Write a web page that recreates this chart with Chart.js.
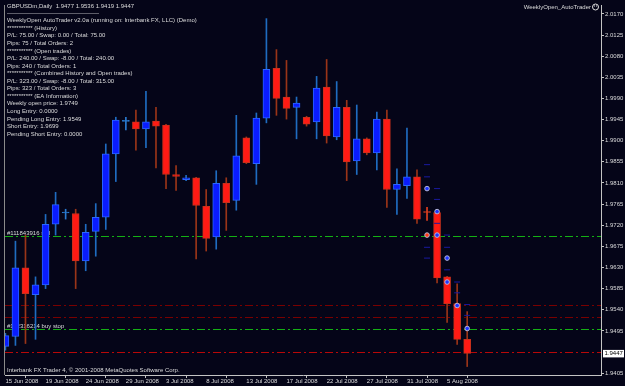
<!DOCTYPE html>
<html>
<head>
<meta charset="utf-8">
<script src="https://cdn.jsdelivr.net/npm/chart.js@4/dist/chart.umd.min.js"></script>
<style>
  html, body { margin: 0; padding: 0; background: #050518; }
  canvas { display: block; }
</style>
</head>
<body>
<canvas id="chart" width="625" height="386"></canvas>
<script>
// GBPUSDm daily bars, 15 Jun - 7 Aug 2008 (Sunday bars included)
const opens  = [1.9462, 1.9483, 1.9629, 1.9572, 1.9593, 1.9722, 1.9746, 1.9745, 1.9644, 1.9707,
                1.9737, 1.9872, 1.9941, 1.9940, 1.9925, 1.9942, 1.9933, 1.9828, 1.9817, 1.9821,
                1.9760, 1.9695, 1.9809, 1.9773, 1.9906, 1.9851, 1.9948, 2.0054, 1.9993, 1.9971,
                1.9950, 1.9940, 2.0014, 1.9908, 1.9971, 1.9857, 1.9904, 1.9874, 1.9946, 1.9796,
                1.9804, 1.9823, 1.9748, 1.9747, 1.9610, 1.9553, 1.9477];
const highs  = [1.9490, 1.9686, 1.9699, 1.9610, 1.9743, 1.9790, 1.9754, 1.9754, 1.9722, 1.9766,
                1.9893, 1.9950, 1.9950, 1.9965, 2.0005, 1.9971, 1.9935, 1.9847, 1.9826, 1.9822,
                1.9796, 1.9836, 1.9821, 1.9954, 1.9908, 1.9959, 2.0160, 2.0094, 2.0071, 1.9993,
                1.9952, 2.0037, 2.0073, 2.0026, 1.9986, 1.9976, 1.9906, 1.9961, 1.9965, 1.9840,
                1.9927, 1.9838, 1.9758, 1.9748, 1.9611, 1.9595, 1.9536];
const lows   = [1.9454, 1.9464, 1.9468, 1.9477, 1.9585, 1.9699, 1.9733, 1.9585, 1.9623, 1.9654,
                1.9711, 1.9813, 1.9923, 1.9880, 1.9885, 1.9842, 1.9798, 1.9794, 1.9815, 1.9648,
                1.9665, 1.9669, 1.9709, 1.9752, 1.9851, 1.9807, 1.9938, 1.9954, 1.9946, 1.9904,
                1.9931, 1.9904, 1.9895, 1.9902, 1.9815, 1.9828, 1.9870, 1.9838, 1.9758, 1.9743,
                1.9777, 1.9724, 1.9730, 1.9597, 1.9513, 1.9466, 1.9419];
const closes = [1.9485, 1.9629, 1.9574, 1.9593, 1.9722, 1.9764, 1.9747, 1.9644, 1.9705, 1.9737,
                1.9872, 1.9944, 1.9942, 1.9925, 1.9940, 1.9931, 1.9828, 1.9824, 1.9821, 1.9762,
                1.9692, 1.9809, 1.9768, 1.9868, 1.9853, 1.9948, 2.0052, 1.9990, 1.9969, 1.9980,
                1.9935, 2.0012, 1.9910, 1.9971, 1.9855, 1.9904, 1.9874, 1.9946, 1.9796, 1.9807,
                1.9823, 1.9733, 1.9747, 1.9608, 1.9553, 1.9477, 1.9447];
// bars drawn as crosses (open ~ close)
const dojiBars = [6, 12, 42];

// date axis: a label every 4th bar
const dateIdx    = [0, 4, 8, 12, 16, 20, 24, 28, 32, 36, 40, 44];
const dateLabels = ["15 Jun 2008", "19 Jun 2008", "24 Jun 2008", "29 Jun 2008", "3 Jul 2008", "8 Jul 2008",
                    "13 Jul 2008", "17 Jul 2008", "22 Jul 2008", "27 Jul 2008", "31 Jul 2008", "5 Aug 2008"];

// price axis
const priceTicks = [2.0170, 2.0125, 2.0080, 2.0035, 1.9990, 1.9945, 1.9900, 1.9855, 1.9810, 1.9765,
                    1.9720, 1.9675, 1.9630, 1.9585, 1.9540, 1.9495, 1.9405];
const yMin = 1.9401, yMax = 2.0189;
const xMin = -0.04, xMax = 59.33;

// order / level lines
const lineLevels = [1.9698, 1.9550, 1.9524, 1.9499, 1.9449];
const lineColors = ['#14b014', '#7a0000', '#7a0000', '#14b014', '#b80808'];
const orderLabels = ["#111843916 sell", "#112316214 buy stop"];
const orderLabelLevels = [1.9698, 1.9499];

// EA arrows
const markerBars   = [42, 42, 43, 43, 44, 44, 45, 46];
const markerPrices = [1.9798, 1.9699, 1.9749, 1.9699, 1.9650, 1.9599, 1.9549, 1.9500];
const markerColors = ['#2035ff', '#ff3a10', '#2035ff', '#2035ff', '#2035ff', '#2035ff', '#2035ff', '#2035ff'];
// faint indicator dashes
const dashBars   = [42, 42, 42, 42, 43, 43, 43, 44, 44, 44, 45, 45, 46, 46];
const dashPrices = [1.9849, 1.9823, 1.9673, 1.9650, 1.9798, 1.9775, 1.9724, 1.9699, 1.9673, 1.9625,
                    1.9599, 1.9576, 1.9551, 1.9528];

const infoLines = [
  "WeeklyOpen AutoTrader v2.0a (running on: Interbank FX, LLC) (Demo)",
  "*********** (History)",
  "P/L: 75.00 / Swap: 0.00 / Total: 75.00",
  "Pips: 75 / Total Orders: 2",
  "*********** (Open trades)",
  "P/L: 240.00 / Swap: -8.00 / Total: 240.00",
  "Pips: 240 / Total Orders: 1",
  "*********** (Combined History and Open trades)",
  "P/L: 323.00 / Swap: -8.00 / Total: 315.00",
  "Pips: 323 / Total Orders: 3",
  "*********** (EA Information)",
  "Weekly open price: 1.9749",
  "Long Entry: 0.0000",
  "Pending Long Entry: 1.9549",
  "Short Entry: 1.9699",
  "Pending Short Entry: 0.0000"
];

const BG = '#050518';
const FAM = '"Liberation Sans", Arial, sans-serif';
const FONT = '6px ' + FAM;
const TXT = '#dcdcdc';
const AXIS = '#c4c4c4';

const n = closes.length;
const up = closes.map((c, i) => c >= opens[i]);
const bodyFill   = up.map(u => u ? '#0a1cff' : '#ff1a14');
const bodyBorder = up.map(u => u ? '#2a66ff' : '#c8301c');
const wickColor  = up.map(u => u ? '#1f6cc0' : '#9a3418');
const crossColor = up.map(u => u ? '#2a7ad0' : '#e04020');

const last = n - 1;
const title = "GBPUSDm,Daily  " + [opens[last], highs[last], lows[last], closes[last]].map(v => v.toFixed(4)).join(" ");

const overlay = {
  id: 'overlay',
  beforeDraw(chart) {
    const ctx = chart.ctx;
    ctx.save();
    ctx.fillStyle = BG;
    ctx.fillRect(0, 0, chart.width, chart.height);
    ctx.restore();
  },
  beforeDatasetsDraw(chart) {
    const {ctx, chartArea: a, scales: {y}} = chart;
    ctx.save();
    // order lines, snapped to whole pixels so the dash-dot stays crisp
    ctx.lineWidth = 1;
    ctx.setLineDash([8, 3, 2, 3]);
    lineLevels.forEach((lvl, i) => {
      const py = Math.round(y.getPixelForValue(lvl)) + 0.5;
      ctx.strokeStyle = lineColors[i];
      ctx.beginPath();
      ctx.moveTo(a.left, py);
      ctx.lineTo(a.right, py);
      ctx.stroke();
    });
    ctx.setLineDash([]);
    ctx.font = FONT;
    ctx.fillStyle = TXT;
    ctx.textBaseline = 'alphabetic';
    orderLabels.forEach((t, i) => {
      ctx.fillText(t, a.left + 2, Math.round(y.getPixelForValue(orderLabelLevels[i])) - 1.5);
    });
    ctx.restore();
  },
  afterDraw(chart) {
    const {ctx, chartArea: a, scales: {y}} = chart;
    ctx.save();
    ctx.font = FONT;
    ctx.fillStyle = TXT;
    ctx.textBaseline = 'middle';
    ctx.fillText(title, a.left + 2, 6.5);
    ctx.fillText('-'.repeat(46), a.left + 2, 13);
    infoLines.forEach((t, i) => ctx.fillText(t, a.left + 2, 20.7 + i * 7.55));
    ctx.fillText("Interbank FX Trader 4, \u00a9 2001-2008 MetaQuotes Software Corp.", a.left + 2, 370);

    // expert name, top right
    ctx.textAlign = 'right';
    ctx.fillText("WeeklyOpen_AutoTrader", a.right - 10, 7);
    ctx.strokeStyle = '#e0e0e0';
    ctx.lineWidth = 1;
    ctx.beginPath();
    ctx.arc(a.right - 5.5, 7, 3, 0, Math.PI * 2);
    ctx.stroke();
    ctx.fillStyle = '#e0e0e0';
    ctx.fillRect(a.right - 7, 5.5, 1, 1);
    ctx.fillRect(a.right - 5, 5.5, 1, 1);

    // left frame
    ctx.fillStyle = '#8a8a8a';
    ctx.fillRect(a.left - 1, a.top, 1, a.bottom - a.top);

    // current price box
    const py = y.getPixelForValue(closes[last]);
    ctx.fillStyle = '#ffffff';
    ctx.fillRect(a.right + 2, py - 3.5, 21, 7.5);
    ctx.fillStyle = '#000000';
    ctx.textAlign = 'left';
    ctx.fillText(closes[last].toFixed(4), a.right + 3.5, py + 0.3);
    ctx.restore();
  }
};

const datasets = [];
datasets.push({
  type: 'bar',
  data: lows.map((l, i) => ({x: i, y: [l, highs[i]]})),
  backgroundColor: lows.map((l, i) => dojiBars.includes(i) ? crossColor[i] : wickColor[i]),
  borderWidth: 0,
  barThickness: 1,
  grouped: false,
  order: 5
});
datasets.push({
  type: 'bar',
  data: opens.map((o, i) => ({x: i, y: [o, closes[i]]})),
  backgroundColor: bodyFill.map((c, i) => dojiBars.includes(i) ? crossColor[i] : c),
  borderColor: bodyBorder.map((c, i) => dojiBars.includes(i) ? crossColor[i] : c),
  borderWidth: 1,
  borderSkipped: false,
  barThickness: 7,
  minBarLength: 1,
  grouped: false,
  order: 4
});
datasets.push({
  type: 'scatter',
  data: dashBars.map((b, i) => ({x: b, y: dashPrices[i]})),
  pointStyle: 'line',
  pointRadius: 3,
  borderColor: '#1a1aa0',
  borderWidth: 1,
  order: 3
});
datasets.push({
  type: 'scatter',
  data: markerBars.map((b, i) => ({x: b, y: markerPrices[i]})),
  pointStyle: 'circle',
  pointRadius: 2.3,
  backgroundColor: markerColors,
  borderColor: '#b8b8d8',
  borderWidth: 1,
  order: 2
});

new Chart(document.getElementById('chart'), {
  type: 'bar',
  data: { datasets },
  options: {
    responsive: false,
    devicePixelRatio: 1,
    animation: false,
    events: [],
    layout: { padding: { left: 2, top: 2, right: 0, bottom: 0 } },
    plugins: { legend: { display: false }, tooltip: { enabled: false } },
    scales: {
      x: {
        type: 'linear',
        position: 'bottom',
        min: xMin,
        max: xMax,
        offset: false,
        afterBuildTicks: s => { s.ticks = dateIdx.map(v => ({value: v})); },
        afterFit: s => { s.height = 11; },
        grid: { display: true, drawOnChartArea: false, drawTicks: true, tickLength: 3, color: AXIS },
        border: { display: true, color: AXIS },
        ticks: {
          autoSkip: false, maxRotation: 0, minRotation: 0, align: 'start', padding: 0,
          color: TXT, font: { family: FAM, size: 6 },
          callback: v => dateLabels[dateIdx.indexOf(v)]
        }
      },
      y: {
        position: 'right',
        min: yMin,
        max: yMax,
        afterBuildTicks: s => { s.ticks = priceTicks.map(v => ({value: v})); },
        afterFit: s => { s.width = 24; },
        grid: { display: true, drawOnChartArea: false, drawTicks: true, tickLength: 3, color: AXIS },
        border: { display: true, color: AXIS },
        ticks: {
          padding: 1, color: TXT, font: { family: FAM, size: 6 },
          callback: v => v.toFixed(4)
        }
      }
    }
  },
  plugins: [overlay]
});
</script>
</body>
</html>
